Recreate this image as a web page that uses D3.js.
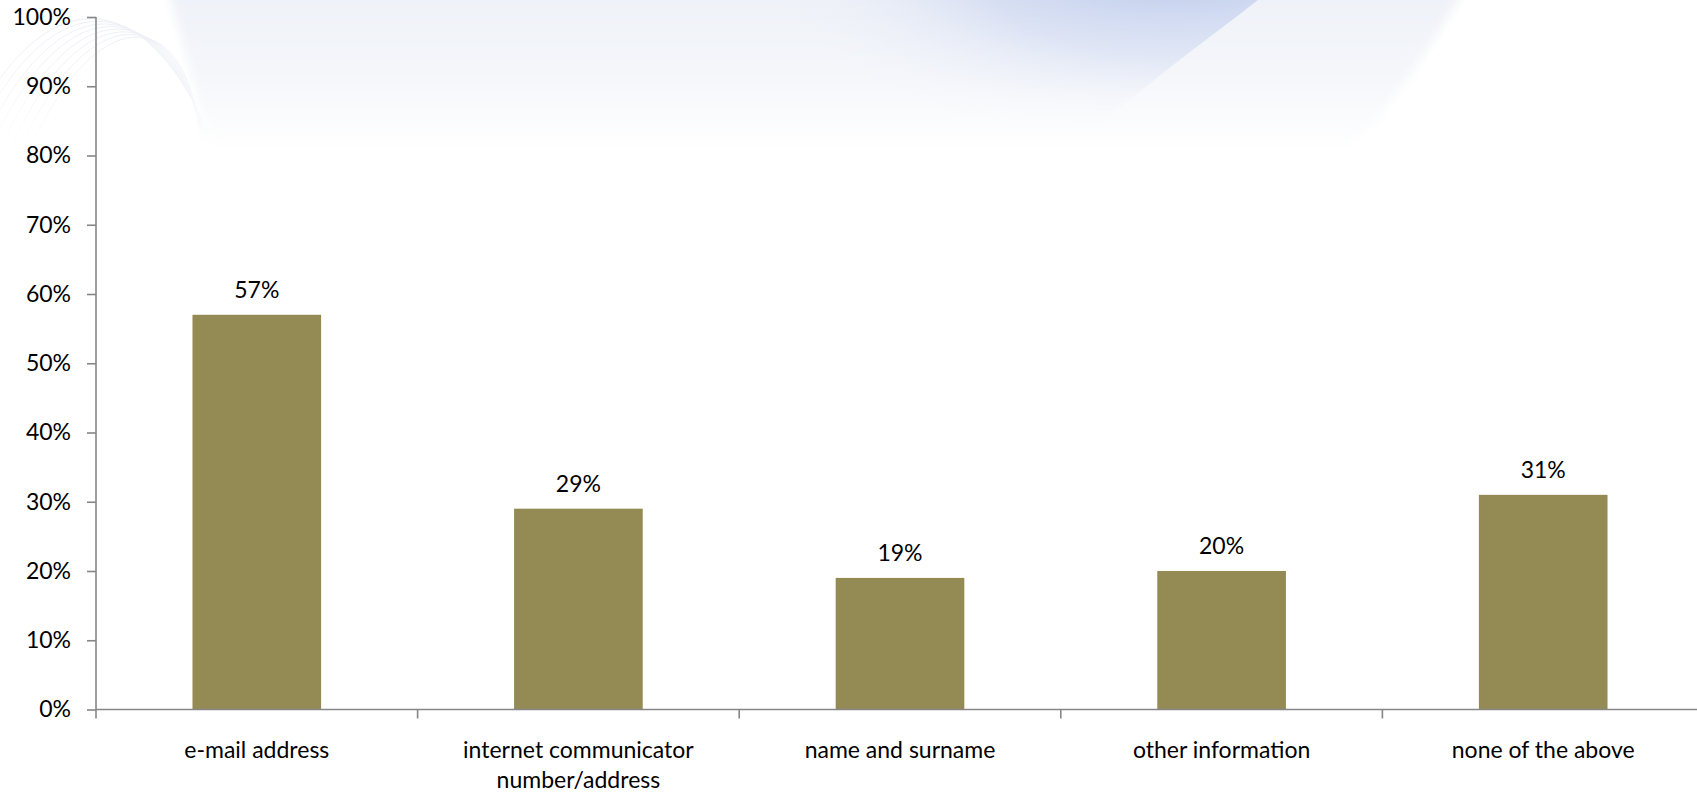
<html lang="en">

<head>
  <meta charset="utf-8">
  <title>Shared information</title>
  <script src="https://d3js.org/d3.v7.min.js"></script>
  <style>
    body { margin: 0; background: #fff; }
    text { font-family: Lato, "Open Sans", sans-serif; fill: #000; }
  </style>
</head>

<body>
  <svg width="1697" height="794"></svg>
  <script>
    const categories = [
      "e-mail address",
      "internet communicator\nnumber/address",
      "name and surname",
      "other information",
      "none of the above"
    ];
    const values = [0.57, 0.29, 0.19, 0.20, 0.31];
    const yTicks = [0, 0.1, 0.2, 0.3, 0.4, 0.5, 0.6, 0.7, 0.8, 0.9, 1.0];

    const svg = d3.select("svg");
    const W = 1697, H = 794;
    const plotLeft = 96, plotTop = 17, plotBottom = 709.5, plotRight = 1704;
    const fontSize = 23;

    // --- faint decorative background at the top ---
    const defs = svg.append("defs");
    const fade = defs.append("linearGradient")
      .attr("id", "fade").attr("x1", 0).attr("y1", 0).attr("x2", 0).attr("y2", 1);
    fade.append("stop").attr("offset", 0).attr("stop-color", "#fff").attr("stop-opacity", 1);
    fade.append("stop").attr("offset", 0.5).attr("stop-color", "#fff").attr("stop-opacity", 0.65);
    fade.append("stop").attr("offset", 1).attr("stop-color", "#fff").attr("stop-opacity", 0);
    defs.append("mask").attr("id", "fadeMask")
      .attr("maskUnits", "userSpaceOnUse")
      .attr("x", 0).attr("y", 0).attr("width", W).attr("height", 150)
      .append("rect").attr("x", 0).attr("y", 0).attr("width", W).attr("height", 150)
      .attr("fill", "url(#fade)");

    defs.append("filter").attr("id", "soft")
      .attr("x", -0.1).attr("y", -0.5).attr("width", 1.2).attr("height", 2)
      .append("feGaussianBlur").attr("stdDeviation", 5);

    const blue = defs.append("radialGradient")
      .attr("id", "blue").attr("cx", 0.5).attr("cy", 0.5).attr("r", 0.5);
    blue.append("stop").attr("offset", 0).attr("stop-color", "#c4d1ee");
    blue.append("stop").attr("offset", 0.45).attr("stop-color", "#d6def2");
    blue.append("stop").attr("offset", 1).attr("stop-color", "#eef1f8").attr("stop-opacity", 0);

    defs.append("clipPath").attr("id", "bandClip")
      .append("path").attr("d", "M0,0 L1258,0 C1220,30 1150,80 1070,150 L0,150 Z");

    const bg = svg.append("g").attr("mask", "url(#fadeMask)");
    // light grey-blue wash
    bg.append("path")
      .attr("filter", "url(#soft)")
      .attr("d", "M165,-20 L1470,-20 C1430,50 1385,110 1345,160 L215,160 C195,90 180,30 165,-20 Z")
      .attr("fill", "#eff2f8");
    // darker blue glow, cut by the curved edge
    bg.append("g").attr("clip-path", "url(#bandClip)")
      .append("ellipse")
      .attr("cx", 1170).attr("cy", -20).attr("rx", 400).attr("ry", 170)
      .attr("fill", "url(#blue)");
    // faint curved strands at left
    for (let i = 0; i < 8; i++) {
      bg.append("path")
        .attr("d", `M${-40 + i * 10},150 C${40 + i * 8},${-30 + i * 4} ${150 + i * 6},${-20 + i * 3} ${215 - i * 2},150`)
        .attr("fill", "none")
        .attr("stroke", "#eaedf4")
        .attr("stroke-width", 1);
    }

    // --- scales ---
    const x = d3.scaleBand()
      .domain(categories)
      .range([plotLeft, plotRight])
      .paddingInner(0.6)
      .paddingOuter(0.3);

    const y = d3.scaleLinear()
      .domain([0, 1])
      .range([plotBottom, plotTop]);

    // --- bars ---
    svg.append("g")
      .selectAll("rect")
      .data(values)
      .enter()
      .append("rect")
      .attr("x", (d, i) => x(categories[i]))
      .attr("y", d => y(d))
      .attr("width", x.bandwidth())
      .attr("height", d => y(0) - y(d))
      .attr("fill", "#948a54");

    // value labels
    svg.append("g")
      .selectAll("text")
      .data(values)
      .enter()
      .append("text")
      .attr("x", (d, i) => x(categories[i]) + x.bandwidth() / 2)
      .attr("y", d => y(d) - 17)
      .attr("text-anchor", "middle")
      .attr("font-size", fontSize)
      .text(d => d3.format(".0%")(d));

    // --- y axis ---
    const yAxis = svg.append("g")
      .attr("transform", `translate(${plotLeft},0)`)
      .call(d3.axisLeft(y)
        .tickValues(yTicks)
        .tickFormat(d3.format(".0%"))
        .tickSize(9)
        .tickPadding(16));
    yAxis.select(".domain").attr("stroke", "#868686").attr("stroke-width", 1.6)
      .attr("d", `M0,${plotBottom}V${plotTop}`);
    yAxis.selectAll(".tick line").attr("stroke", "#868686").attr("stroke-width", 1.6);
    yAxis.selectAll(".tick text")
      .attr("font-size", fontSize)
      .attr("font-family", "Lato, 'Open Sans', sans-serif")
      .attr("fill", "#000");

    // --- x axis ---
    const xAxis = svg.append("g");
    xAxis.append("line")
      .attr("x1", plotLeft).attr("x2", W)
      .attr("y1", plotBottom).attr("y2", plotBottom)
      .attr("stroke", "#868686").attr("stroke-width", 1.6);

    const boundaries = d3.range(categories.length + 1).map(i => plotLeft + i * x.step());
    xAxis.selectAll(".bound")
      .data(boundaries)
      .enter()
      .append("line")
      .attr("x1", d => d).attr("x2", d => d)
      .attr("y1", plotBottom).attr("y2", plotBottom + 9)
      .attr("stroke", "#868686").attr("stroke-width", 1.6);

    const catLabels = xAxis.selectAll(".cat")
      .data(categories)
      .enter()
      .append("text")
      .attr("text-anchor", "middle")
      .attr("font-size", fontSize)
      .attr("transform", d => `translate(${x(d) + x.bandwidth() / 2},${plotBottom + 48})`);

    catLabels.selectAll("tspan")
      .data(d => d.split("\n"))
      .enter()
      .append("tspan")
      .attr("x", 0)
      .attr("dy", (d, i) => i === 0 ? 0 : 30)
      .text(d => d);
  </script>
</body>

</html>
